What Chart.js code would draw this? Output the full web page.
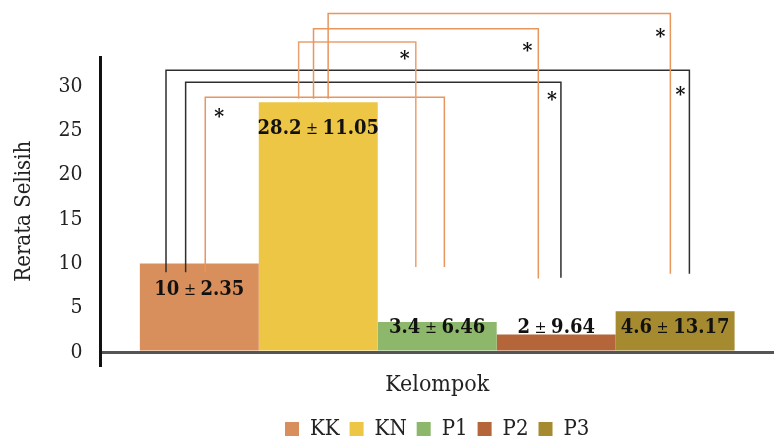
<!DOCTYPE html>
<html>
<head>
<meta charset="utf-8">
<script src="https://cdn.jsdelivr.net/npm/chart.js@4.4.0/dist/chart.umd.min.js"></script>
<style>
  html, body { margin: 0; padding: 0; background: #fff; }
  #wrap { width: 774px; height: 439px; }
</style>
</head>
<body>
<div id="wrap"><canvas id="myChart"></canvas></div>
<script>
// Data
var groups = ['KK', 'KN', 'P1', 'P2', 'P3'];
var means = [10, 28.2, 3.4, 2, 4.6];
var sds = [2.35, 11.05, 6.46, 9.64, 13.17];
var yTicks = [0, 5, 10, 15, 20, 25, 30];
var barColors = ['#D98F5B', '#EDC645', '#8DB76A', '#B4663A', '#A58A30'];

// Significance brackets (pairs of groups, level in y units)
var bracketPairs = [[0, 4], [0, 3], [0, 2], [1, 2], [1, 3], [1, 4]];
var bracketLevels = [31.8, 30.45, 28.75, 35.0, 36.5, 38.2];
var bracketEnds = [[9, 8.85], [9, 8.4], [9, 9.6], [28.6, 9.6], [28.6, 8.3], [28.6, 8.85]];

// Styling of the brackets (leg offset as fraction of bar width, star offset in px)
var bracketStyle = [
  { color: '#2e2e2e', legs: [-0.28, 0.12], star: [-9, 25] },
  { color: '#2e2e2e', legs: [-0.115, 0.04], star: [-9, 18] },
  { color: '#E8955E', legs: [0.05, 0.06], star: [14, 20], left: true },
  { color: '#EBA070', legs: [-0.165, -0.18], star: [-11, 18] },
  { color: '#E8955E', legs: [-0.04, -0.15], star: [-11, 23] },
  { color: '#E8955E', legs: [0.083, -0.04], star: [-10, 24] }
];

var serif = '"DejaVu Serif Condensed", "DejaVu Serif", serif';

var bracketPlugin = {
  id: 'brackets',
  afterDatasetsDraw: function(chart) {
    var ctx = chart.ctx;
    var y = chart.scales.y;
    ctx.save();
    for (var i = 0; i < bracketPairs.length; i++) {
      var a = chart.getDatasetMeta(bracketPairs[i][0]).data[0];
      var b = chart.getDatasetMeta(bracketPairs[i][1]).data[0];
      var st = bracketStyle[i];
      var x1 = a.x + st.legs[0] * a.width;
      var x2 = b.x + st.legs[1] * b.width;
      var top = y.getPixelForValue(bracketLevels[i]);
      ctx.strokeStyle = st.color;
      ctx.lineWidth = 1.5;
      ctx.beginPath();
      ctx.moveTo(x1, y.getPixelForValue(bracketEnds[i][0]));
      ctx.lineTo(x1, top);
      ctx.lineTo(x2, top);
      ctx.lineTo(x2, y.getPixelForValue(bracketEnds[i][1]));
      ctx.stroke();
      // star
      ctx.fillStyle = '#111';
      ctx.font = 'bold 21px ' + serif;
      ctx.textAlign = 'center';
      ctx.textBaseline = 'middle';
      var sx = st.left ? x1 + st.star[0] : x2 + st.star[0];
      ctx.fillText('*', sx, top + st.star[1]);
    }
    ctx.restore();
  }
};

var labelPlugin = {
  id: 'barLabels',
  afterDatasetsDraw: function(chart) {
    var ctx = chart.ctx;
    var y = chart.scales.y;
    ctx.save();
    ctx.fillStyle = '#111';
    ctx.textBaseline = 'middle';
    ctx.textAlign = 'left';
    var bold = 'bold 20px ' + serif;
    var thin = '16px ' + serif;
    for (var i = 0; i < means.length; i++) {
      var bar = chart.getDatasetMeta(i).data[0];
      var v = means[i];
      var ly = y.getPixelForValue(v > 6 ? v - 3 : 2.75);
      var p1 = String(v), p2 = ' \u00B1 ', p3 = String(sds[i]);
      ctx.font = bold;
      var w1 = ctx.measureText(p1).width, w3 = ctx.measureText(p3).width;
      ctx.font = thin;
      var w2 = ctx.measureText(p2).width;
      var x = bar.x - (w1 + w2 + w3) / 2;
      ctx.font = bold;
      ctx.fillText(p1, x, ly);
      ctx.font = thin;
      ctx.fillText(p2, x + w1, ly + 1);
      ctx.font = bold;
      ctx.fillText(p3, x + w1 + w2, ly);
    }
    ctx.restore();
  }
};

var datasets = groups.map(function(g, i) {
  return {
    label: g,
    data: [means[i]],
    backgroundColor: barColors[i],
    borderWidth: 0,
    barPercentage: 1,
    categoryPercentage: 0.883
  };
});

var ctx = document.getElementById('myChart').getContext('2d');
var myChart = new Chart(ctx, {
  type: 'bar',
  data: { labels: [''], datasets: datasets },
  options: {
    responsive: true,
    maintainAspectRatio: false,
    animation: false,
    layout: { padding: { top: 57, left: 11, right: -8, bottom: -11 } },
    plugins: {
      tooltip: { enabled: false },
      legend: {
        position: 'bottom',
        fullSize: false,
        labels: {
          boxWidth: 14,
          boxHeight: 14,
          padding: 10,
          color: '#222',
          font: { family: serif, size: 22 }
        }
      }
    },
    scales: {
      x: {
        grid: { display: false },
        border: { display: false },
        ticks: { display: false },
        title: {
          display: true,
          text: 'Kelompok',
          color: '#222',
          font: { family: serif, size: 23 },
          padding: { top: -2, bottom: 9 }
        }
      },
      y: {
        min: -1.5,
        max: 33.3,
        afterBuildTicks: function(scale) {
          scale.ticks = yTicks.map(function(v) { return { value: v }; });
        },
        border: { display: true, color: '#111', width: 3 },
        grid: {
          drawTicks: false,
          color: function(c) { return c.tick && c.tick.value === 0 ? '#555' : 'rgba(0,0,0,0)'; },
          lineWidth: function(c) { return c.tick && c.tick.value === 0 ? 3 : 0; }
        },
        ticks: {
          padding: 18,
          color: '#222',
          font: { family: serif, size: 21 }
        },
        title: {
          display: true,
          text: 'Rerata Selisih',
          color: '#222',
          font: { family: serif, size: 22 },
          padding: { top: 0, bottom: 3 }
        }
      }
    }
  },
  plugins: [bracketPlugin, labelPlugin]
});
</script>
</body>
</html>
